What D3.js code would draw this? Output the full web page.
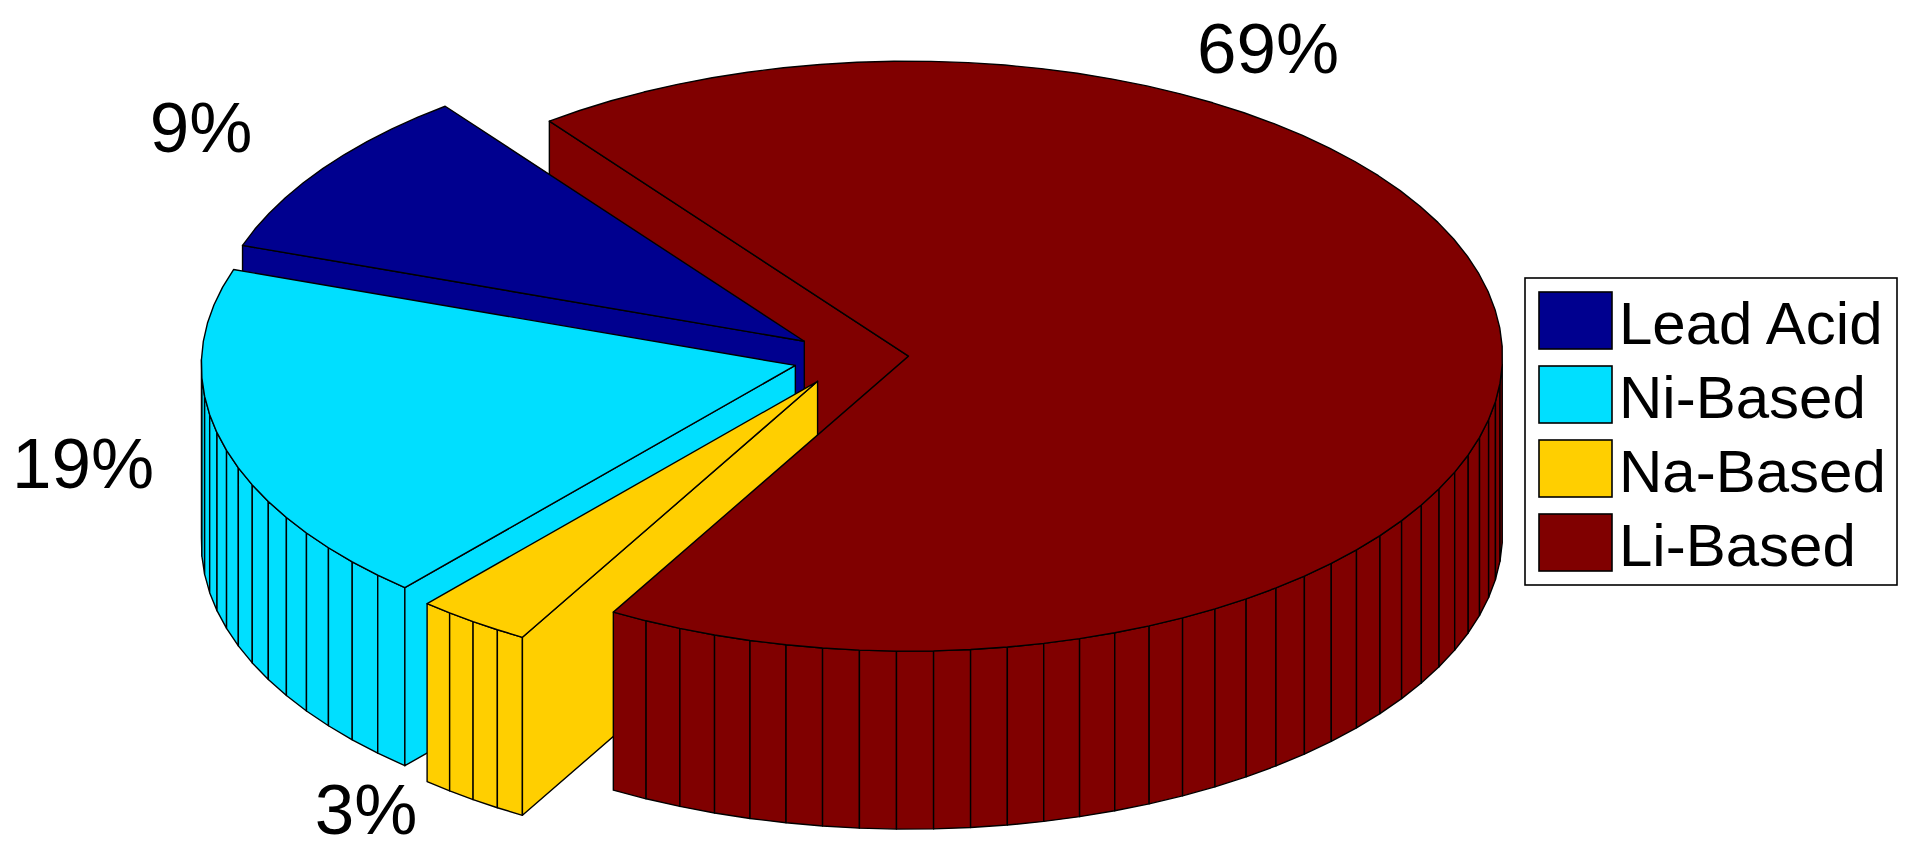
<!doctype html>
<html lang="en">
<head>
    <meta charset="UTF-8">
    <title>Battery share pie</title>
    <script src="https://cdn.jsdelivr.net/npm/d3@7"></script>
    <style>
        html, body { margin: 0; padding: 0; background: #fff; overflow: hidden; }
        svg { display: block; }
        text { font-family: "Liberation Sans", Arial, sans-serif; fill: #000; }
        .face { stroke: #000; stroke-width: 1.4; stroke-linejoin: round; }
    </style>
</head>
<body>
<script>
    // data
    var categories = ["Lead Acid", "Ni-Based", "Na-Based", "Li-Based"];
    var shares = [9.4, 18.85, 3.14, 68.61];
    var colors = ["#00008f", "#00dfff", "#ffcf00", "#800000"];

    var w = 1921, h = 859;

    // pie layout
    var cx = 851, cy = 358, rx = 594, ry = 295, depth = 178, explode = 0.097;
    var firstAngle = -37.2 * Math.PI / 180;

    // label centres, baseline y
    var labelPos = [[201, 152], [83, 488], [366, 834], [1268, 73]];
    var labelSize = 71;

    var x_scale = d3.scaleLinear().domain([-1, 1]).range([cx - rx, cx + rx]);
    var y_scale = d3.scaleLinear().domain([-1, 1]).range([cy - ry, cy + ry]);

    var pie = d3.pie().sort(null).value(function (d) { return d; })
        .startAngle(firstAngle).endAngle(firstAngle - 2 * Math.PI);
    var slices = pie(shares);

    var line = d3.line();

    function project(r, a, off, z) {
        return [x_scale(r * Math.sin(a) + off[0]), y_scale(-r * Math.cos(a) + off[1]) + z];
    }

    // faces of every slice, one facet per started percent like pie3 does
    function sliceFaces(s, i) {
        var mid = (s.startAngle + s.endAngle) / 2;
        var off = [explode * Math.sin(mid), -explode * Math.cos(mid)];
        var n = Math.ceil(shares[i]);
        var angles = d3.range(n + 1).map(function (k) {
            return s.startAngle + (s.endAngle - s.startAngle) * k / n;
        });
        var top = [project(0, 0, off, 0)].concat(angles.map(function (a) {
            return project(1, a, off, 0);
        }));
        var facets = [];
        d3.pairs(angles).forEach(function (p) {
            if (Math.cos((p[0] + p[1]) / 2) < 0) {
                facets.push({ i: i, d: line([
                    project(1, p[0], off, 0), project(1, p[1], off, 0),
                    project(1, p[1], off, depth), project(1, p[0], off, depth)
                ]) + "Z" });
            }
        });
        var wall = { i: i, d: line([
            project(0, 0, off, 0), project(1, s.endAngle, off, 0),
            project(1, s.endAngle, off, depth), project(0, 0, off, depth)
        ]) + "Z" };
        return { wall: wall, facets: facets, top: { i: i, d: line(top) + "Z" } };
    }

    var built = slices.map(sliceFaces);
    var li = built[3];

    // painter's order: Li wall goes behind everything, Li top and rim in front
    var faces = [li.wall];
    [0, 1, 2].forEach(function (i) {
        faces = faces.concat(built[i].facets, [built[i].wall, built[i].top]);
    });
    faces = faces.concat(li.facets, [li.top]);

    var svg = d3.select("body").append("svg").attr("width", w).attr("height", h);

    svg.append("g").selectAll("path")
        .data(faces)
        .join("path")
        .attr("class", "face")
        .attr("d", function (d) { return d.d; })
        .attr("fill", function (d) { return colors[d.i]; });

    svg.append("g").selectAll("text")
        .data(shares)
        .join("text")
        .attr("x", function (d, i) { return labelPos[i][0]; })
        .attr("y", function (d, i) { return labelPos[i][1]; })
        .attr("text-anchor", "middle")
        .attr("font-size", labelSize)
        .text(function (d) { return Math.round(d) + "%"; });

    // legend
    var legend = svg.append("g");
    legend.append("rect")
        .attr("x", 1525).attr("y", 278).attr("width", 372).attr("height", 307)
        .attr("fill", "#fff").attr("stroke", "#000").attr("stroke-width", 1.6);

    var row_scale = d3.scalePoint().domain(categories).range([292, 514]);

    legend.selectAll("rect.swatch")
        .data(categories)
        .join("rect")
        .attr("class", "swatch")
        .attr("x", 1539)
        .attr("y", function (d) { return row_scale(d); })
        .attr("width", 73)
        .attr("height", 57)
        .attr("fill", function (d, i) { return colors[i]; })
        .attr("stroke", "#000")
        .attr("stroke-width", 1.6);

    legend.selectAll("text")
        .data(categories)
        .join("text")
        .attr("x", 1619)
        .attr("y", function (d) { return row_scale(d) + 52; })
        .attr("font-size", 60)
        .text(function (d) { return d; });
</script>
</body>
</html>
